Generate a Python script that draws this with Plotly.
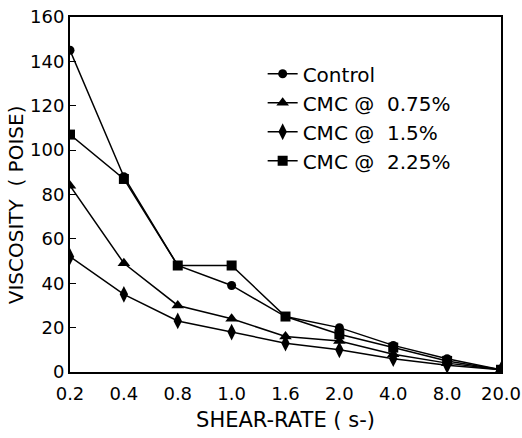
import plotly.graph_objects as go

shear_labels = ["0.2", "0.4", "0.8", "1.0", "1.6", "2.0", "4.0", "8.0", "20.0"]
control = [145, 88, 48, 39, 25, 20, 12, 6, 1]
cmc_075 = [84, 49, 30, 24, 16, 14, 8, 4, 1]
cmc_15 = [52, 35, 23, 18, 13, 10, 6, 3, 1]
cmc_225 = [107, 87, 48, 48, 25, 17, 11, 5, 1]

series = [
    ("Control", control, "circle", 9),
    ("CMC @  0.75%", cmc_075, "triangle-up", 11),
    ("CMC @  1.5%", cmc_15, "diamond-tall", 12),
    ("CMC @  2.25%", cmc_225, "square", 10),
]

x = list(range(len(shear_labels)))
fig = go.Figure()
for name, vals, sym, sz in series:
    fig.add_trace(go.Scatter(
        x=x, y=vals, name=name, mode="lines+markers",
        line=dict(color="black", width=1.5),
        marker=dict(symbol=sym, size=sz, color="black"),
    ))

font = "DejaVu Sans"
fig.update_layout(
    width=522, height=438,
    margin=dict(l=70, r=21, t=17, b=66),
    paper_bgcolor="white", plot_bgcolor="white",
    font=dict(family=font, color="black", size=17),
    showlegend=True,
    legend=dict(x=0.447, y=0.895, xanchor="left", yanchor="top",
                bgcolor="rgba(0,0,0,0)", font=dict(size=20),
                itemwidth=30, tracegroupgap=3),
    xaxis=dict(
        range=[0, 8], tickmode="array", tickvals=x, ticktext=shear_labels,
        showgrid=False, zeroline=False, showline=True, linecolor="black",
        linewidth=2, mirror=True, ticks="", tickfont=dict(size=18),
        automargin=False, ticklabelstandoff=4,
        title=dict(text="SHEAR-RATE ( s-)", font=dict(size=21), standoff=10),
    ),
    yaxis=dict(
        range=[0, 160], tickmode="array", tickvals=list(range(0, 161, 20)),
        showgrid=False, zeroline=False, showline=True, linecolor="black",
        linewidth=2, mirror=True, ticks="inside", ticklen=6, tickcolor="black",
        tickfont=dict(size=18), automargin=False,
    ),
    annotations=[dict(
        text="VISCOSITY  ( POISE)", textangle=-90, xref="paper", yref="paper",
        x=-0.125, y=0.47, xanchor="center", yanchor="middle", showarrow=False,
        font=dict(size=20),
    )],
)
fig.write_html("out.html")
